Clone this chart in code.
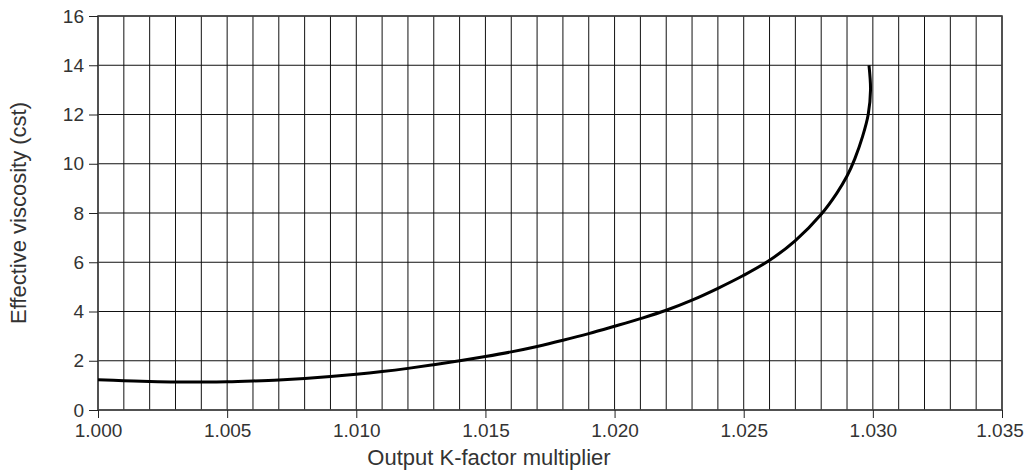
<!DOCTYPE html>
<html>
<head>
<meta charset="utf-8">
<script src="https://cdn.jsdelivr.net/npm/d3@7"></script>
<style>
	html, body { margin: 0; padding: 0; background: #fff; }
	#chart { width: 1024px; height: 470px; }
	text { font-family: "Liberation Sans", Arial, Helvetica, sans-serif; fill: #333; }
	.axis text { font-size: 19px; }
	.axis-label { font-size: 22px; }
</style>
</head>
<body>
<div id="chart"></div>
<script>
// K-factor multiplier and effective viscosity
const kFactor = [
	1.0, 1.001, 1.002, 1.003, 1.004, 1.005, 1.006, 1.007, 1.008, 1.009,
	1.01, 1.011, 1.012, 1.013, 1.014, 1.015, 1.016, 1.017, 1.018, 1.019,
	1.02, 1.021, 1.022, 1.023, 1.024, 1.025, 1.026, 1.027, 1.028, 1.0286,
	1.029, 1.0293, 1.0296, 1.02982, 1.02991, 1.02985,
];
const viscosity = [
	1.23, 1.19, 1.16, 1.14, 1.14, 1.15, 1.18, 1.22, 1.28, 1.36,
	1.45, 1.56, 1.69, 1.84, 2.0, 2.17, 2.36, 2.58, 2.83, 3.1,
	3.4, 3.71, 4.05, 4.46, 4.94, 5.47, 6.08, 6.88, 7.95, 8.8,
	9.5, 10.2, 11.1, 12.0, 13.0, 14.0,
];
const xTicks = [1.0, 1.005, 1.01, 1.015, 1.02, 1.025, 1.03, 1.035];
const xGrid = d3.range(0, 36).map((i) => 1 + i / 1000);
const yTicks = [0, 2, 4, 6, 8, 10, 12, 14, 16];

const width = 1024;
const height = 470;
const margin = { top: 16, right: 22, bottom: 60, left: 98 };

const svg = d3
	.select("#chart")
	.append("svg")
	.attr("width", width)
	.attr("height", height);

const xScale = d3
	.scaleLinear()
	.domain([1.0, 1.035])
	.range([margin.left, width - margin.right]);

const yScale = d3
	.scaleLinear()
	.domain([0, 16])
	.range([height - margin.bottom, margin.top]);

// grid lines
svg.append("g")
	.selectAll("line")
	.data(xGrid)
	.enter()
	.append("line")
	.attr("x1", (d) => xScale(d))
	.attr("x2", (d) => xScale(d))
	.attr("y1", margin.top)
	.attr("y2", height - margin.bottom)
	.attr("stroke", "#111")
	.attr("stroke-width", 1);

svg.append("g")
	.selectAll("line")
	.data(yTicks)
	.enter()
	.append("line")
	.attr("x1", margin.left)
	.attr("x2", width - margin.right)
	.attr("y1", (d) => yScale(d))
	.attr("y2", (d) => yScale(d))
	.attr("stroke", "#111")
	.attr("stroke-width", 1);

// frame
svg.append("rect")
	.attr("x", margin.left)
	.attr("y", margin.top)
	.attr("width", width - margin.left - margin.right)
	.attr("height", height - margin.top - margin.bottom)
	.attr("fill", "none")
	.attr("stroke", "#444")
	.attr("stroke-width", 1.6);

// axes
const xAxis = d3
	.axisBottom(xScale)
	.tickValues(xTicks)
	.tickFormat(d3.format(".3f"))
	.tickSize(8)
	.tickSizeOuter(0)
	.tickPadding(6);
svg.append("g")
	.attr("class", "axis")
	.attr("transform", `translate(0, ${height - margin.bottom})`)
	.call(xAxis)
	.call((g) => g.select(".domain").remove());

// last label sits on the right edge, nudge it in
svg.selectAll(".axis .tick text")
	.filter((d) => d === 1.035)
	.attr("dx", -2.5);

const yAxis = d3
	.axisLeft(yScale)
	.tickValues(yTicks)
	.tickSize(9)
	.tickSizeOuter(0)
	.tickPadding(5);
svg.append("g")
	.attr("class", "axis")
	.attr("transform", `translate(${margin.left}, 0)`)
	.call(yAxis)
	.call((g) => g.select(".domain").remove());

svg.selectAll(".axis .tick line").attr("stroke", "#222");
svg.selectAll(".axis text").attr("fill", "#333");

// curve
const line = d3
	.line()
	.x((d, i) => xScale(kFactor[i]))
	.y((d) => yScale(d))
	.curve(d3.curveCatmullRom.alpha(0.5));

svg.append("path")
	.datum(viscosity)
	.attr("d", line)
	.attr("fill", "none")
	.attr("stroke", "#000")
	.attr("stroke-width", 3);

// axis labels
svg.append("text")
	.attr("class", "axis-label")
	.attr("x", 489)
	.attr("y", 465)
	.attr("text-anchor", "middle")
	.text("Output K-factor multiplier");

svg.append("text")
	.attr("class", "axis-label")
	.attr("transform", `translate(26, ${(margin.top + height - margin.bottom) / 2}) rotate(-90)`)
	.attr("text-anchor", "middle")
	.text("Effective viscosity (cst)");
</script>
</body>
</html>
